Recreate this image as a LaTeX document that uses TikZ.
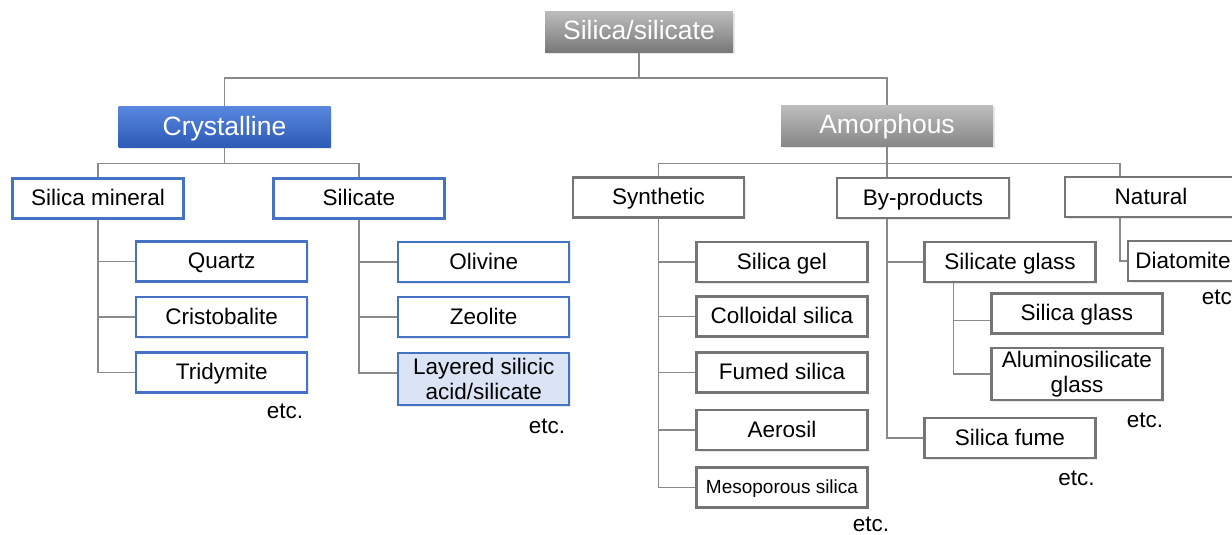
\documentclass[tikz,border=0pt]{standalone}
\usepackage{fontspec}
\setmainfont{Liberation Sans}
\usetikzlibrary{shadows}
\definecolor{bblue}{RGB}{68,114,196}
\definecolor{conn}{RGB}{138,138,138}
\definecolor{gborder}{RGB}{117,117,117}
\definecolor{lblue}{RGB}{218,228,244}
\definecolor{cryTop}{RGB}{88,135,222}
\definecolor{cryBot}{RGB}{44,90,182}
\definecolor{grTop}{RGB}{188,188,188}
\definecolor{grBot}{RGB}{120,120,120}
\definecolor{amTop}{RGB}{190,190,190}
\definecolor{amBot}{RGB}{135,135,135}
\begin{document}
\begin{tikzpicture}[x=1pt,y=-1pt,
  txt/.style={font=\fontsize{22.5}{25.5}\selectfont},
  shade/.style={drop shadow={opacity=0.18,shadow xshift=1.5pt,shadow yshift=-1.5pt}},
  box/.style={draw,inner sep=0pt,align=center,txt,minimum height=40pt,minimum width=171pt,
    fill=white,text height=18pt,text depth=4pt,shade},
  twoline/.style={minimum height=52pt,text height={},text depth={}},
  bbox/.style={box,draw=bblue,line width=2.5pt},
  gbox/.style={box,draw=gborder,line width=2.5pt},
  head/.style={inner sep=0pt,minimum height=41pt,text=white,
    font=\fontsize{26.5}{30}\selectfont,text height=20pt,text depth=4pt,shade},
  link/.style={draw=conn,line width=1.5pt},
  etc/.style={txt,inner sep=0pt}
]
\useasboundingbox (0,0) rectangle (1232,535);
\clip (0,0) rectangle (1232,535);

% headers
\node[head,minimum width=188pt,top color=grTop,bottom color=grBot] (root) at (639,32) {Silica/silicate};
\node[head,minimum width=212pt,top color=cryTop,bottom color=cryBot] (cry) at (224.5,127) {Crystalline};
\node[head,minimum width=212pt,top color=amTop,bottom color=amBot] (amo) at (887,125.5) {Amorphous};

% crystalline branch
\node[bbox] (silmin) at (98,198.5) {Silica mineral};
\node[bbox] (silcat) at (359,198.5) {Silicate};
\node[bbox] (quartz) at (221.7,261.5) {Quartz};
\node[bbox] (cristo) at (221.7,317) {Cristobalite};
\node[bbox] (tridy) at (221.7,372.5) {Tridymite};
\node[bbox] (olivine) at (483.7,262) {Olivine};
\node[bbox] (zeolite) at (483.7,317) {Zeolite};
\node[bbox,fill=lblue,twoline] (layered) at (483.7,379) {Layered silicic\\acid/silicate};

% amorphous branch
\node[gbox] (syn) at (658.5,197.7) {Synthetic};
\node[gbox,minimum width=172pt] (byp) at (923,198) {By-products};
\node[gbox,minimum width=172pt] (nat) at (1151,197) {Natural};
\node[gbox] (silgel) at (782,262) {Silica gel};
\node[gbox] (colloid) at (782,316.5) {Colloidal silica};
\node[gbox] (fumed) at (782,372.5) {Fumed silica};
\node[gbox] (aerosil) at (782,430) {Aerosil};
\node[gbox,font=\fontsize{19}{22}\selectfont,text height=15pt,text depth=3.5pt] (meso) at (782,487.5) {Mesoporous silica};
\node[gbox] (silglass) at (1010,262) {Silicate glass};
\node[gbox] (sglass) at (1077,313.5) {Silica glass};
\node[gbox,twoline] (alumino) at (1077,374) {Aluminosilicate\\glass};
\node[gbox] (silfume) at (1010,438) {Silica fume};
\node[gbox,minimum width=110pt] (diato) at (1183,261) {Diatomite};

% etc. labels
\node[etc] (etc1) at (285,411.7) {etc.};
\node[etc] (etc2) at (547,426.7) {etc.};
\node[etc] (etc3) at (871,524) {etc.};
\node[etc] (etc4) at (1145,420) {etc.};
\node[etc] (etc5) at (1076.5,478) {etc.};
\node[etc] (etc6) at (1220,297) {etc.};

% connectors
\coordinate (j0) at (0,78);
\coordinate (j1) at (0,163.3);
\draw[link] (root.south) -- (root.south|-j0) -| (cry.north);
\draw[link] (root.south|-j0) -| (amo.north);
\draw[link] (cry.south) -- (cry.south|-j1) -| (silmin.north);
\draw[link] (cry.south|-j1) -| (silcat.north);
\draw[link] (silmin.south) |- (quartz.west);
\draw[link] (silmin.south) |- (cristo.west);
\draw[link] (silmin.south) |- (tridy.west);
\draw[link] (silcat.south) |- (olivine.west);
\draw[link] (silcat.south) |- (zeolite.west);
\draw[link] (silcat.south) |- ([yshift=6pt]layered.west);

\draw[link] (amo.south) -- (byp.north -| amo.south);
\draw[link] (amo.south|-j1) -| (syn.north);
\draw[link] (amo.south|-j1) -| ([xshift=-31pt]nat.north);
\draw[link] (syn.south) |- (silgel.west);
\draw[link] (syn.south) |- (colloid.west);
\draw[link] (syn.south) |- (fumed.west);
\draw[link] (syn.south) |- (aerosil.west);
\draw[link] (syn.south) |- (meso.west);
\draw[link] (byp.south -| amo.south) |- (silglass.west);
\draw[link] (byp.south -| amo.south) |- (silfume.west);
\draw[link] ([xshift=-56.5pt]silglass.south) |- ([yshift=-7pt]sglass.west);
\draw[link] ([xshift=-56.5pt]silglass.south) |- (alumino.west);
\draw[link] ([xshift=-31pt]nat.south) |- (diato.west);
\end{tikzpicture}
\end{document}
